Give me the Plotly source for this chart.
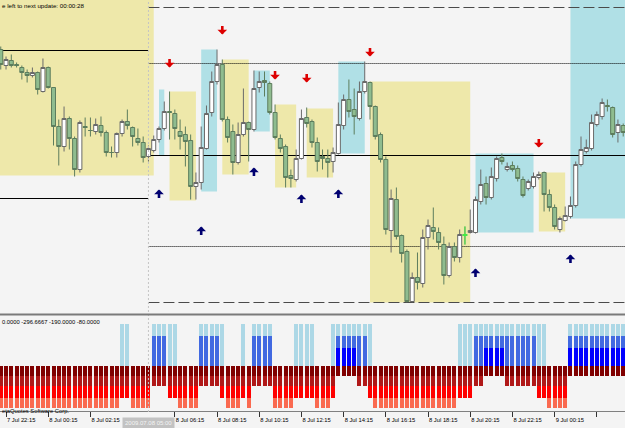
import plotly.graph_objects as go
import pandas as pd
import numpy as np

# ---------------- data ----------------
start = pd.Timestamp("2009-07-07 22:00")
times = pd.date_range(start, periods=119, freq="15min")

# prices in points (1 point = 0.0001)
open_pts = [16350,16334,16339,16335,16332,16327,16324,16327,16308,16332,
            16312,16273,16253,16281,16261,16230,16273,16269,16268,16274,
            16267,16247,16247,16266,16278,16272,16261,16257,16243,16249,
            16260,16271,16288,16286,16268,16265,16259,16213,16217,16251,
            16287,16318,16335,16280,16268,16237,16265,16277,16270,16312,
            16319,16316,16287,16261,16253,16224,16220,16241,16282,16278,
            16257,16243,16241,16238,16246,16274,16300,16290,16281,16308,
            16317,16293,16265,16240,16169,16200,16164,16148,16098,16122,
            16116,16162,16172,16167,16155,16124,16153,16142,16165,16167,
            16167,16198,16216,16202,16221,16242,16230,16234,16231,16220,
            16211,16213,16222,16227,16205,16192,16170,16179,16183,16194,
            16235,16248,16251,16275,16283,16294,16292,16267,16274]
high_pts = [16353,16343,16345,16337,16334,16330,16332,16328,16341,16333,
            16312,16280,16293,16283,16263,16279,16282,16282,16281,16283,
            16269,16253,16267,16280,16290,16273,16271,16263,16254,16264,
            16273,16298,16308,16290,16280,16273,16265,16227,16273,16294,
            16328,16350,16340,16283,16275,16277,16311,16278,16329,16328,
            16328,16318,16295,16265,16255,16230,16250,16290,16292,16280,
            16262,16250,16250,16252,16297,16305,16320,16311,16318,16338,
            16318,16294,16267,16243,16210,16212,16165,16150,16127,16147,
            16170,16180,16192,16172,16163,16157,16157,16170,16173,16190,
            16203,16230,16223,16232,16243,16246,16237,16238,16234,16223,
            16220,16227,16228,16228,16210,16195,16183,16193,16203,16238,
            16263,16260,16285,16288,16301,16300,16293,16280,16276]
low_pts = [16330,16330,16332,16332,16320,16317,16322,16305,16307,16311,
           16254,16234,16248,16250,16223,16227,16263,16263,16265,16263,
           16243,16242,16242,16263,16270,16253,16254,16237,16238,16247,
           16257,16269,16260,16260,16250,16233,16200,16200,16210,16250,
           16283,16315,16278,16257,16225,16235,16263,16238,16268,16307,
           16303,16285,16260,16247,16212,16212,16218,16240,16272,16252,
           16228,16230,16222,16227,16245,16270,16282,16265,16279,16306,
           16280,16260,16237,16165,16147,16160,16137,16097,16097,16110,
           16112,16150,16160,16150,16115,16122,16138,16137,16155,16166,
           16166,16195,16195,16200,16218,16235,16228,16228,16218,16202,
           16209,16211,16220,16188,16188,16170,16167,16178,16181,16192,
           16233,16246,16249,16273,16280,16288,16262,16257,16263]
close_pts = [16335,16340,16334,16334,16327,16324,16327,16310,16332,16312,
             16273,16253,16281,16261,16230,16277,16272,16269,16275,16267,
             16247,16247,16266,16278,16274,16263,16257,16242,16251,16260,
             16271,16288,16287,16271,16263,16258,16213,16217,16252,16286,
             16318,16335,16280,16262,16237,16265,16277,16270,16311,16318,
             16317,16287,16262,16251,16222,16221,16241,16281,16276,16257,
             16238,16241,16237,16247,16275,16300,16288,16283,16308,16318,
             16293,16263,16240,16170,16201,16163,16146,16098,16122,16117,
             16162,16174,16168,16157,16124,16153,16142,16165,16164,16169,
             16200,16215,16202,16223,16241,16238,16233,16230,16221,16204,
             16218,16223,16225,16205,16192,16173,16181,16184,16194,16235,
             16250,16252,16277,16285,16297,16293,16265,16275,16267]
lime_bar = 88

# pivot-type levels (points); day boundary at bar 28
split_bar = 28
day1_solid = [16349, 16201]
day2_solid = [16244]
day2_dotted = [16336, 16153]
day2_dashed = [16392, 16097]

# zones: (first bar, last bar, low pts, high pts, kind)
zone_start = [-1, 30, 32, 38, 42, 48, 52, 58, 64, 70, 90, 102, 108]
zone_end   = [29, 31, 37, 41, 47, 51, 56, 63, 69, 89, 101, 107, 121]
zone_low   = [16224,16244,16199,16208,16225,16268,16212,16222,16246,16097,16167,16168,16181]
zone_high  = [16410,16310,16308,16350,16340,16329,16295,16291,16338,16318,16246,16227,16410]
zone_kind  = ["Y","B","Y","B","Y","B","Y","Y","B","Y","B","Y","B"]

# signal arrows (bar index, tip price pts)
down_bar = [32, 42, 52, 58, 70, 102]
down_tip = [16332, 16365, 16320, 16317, 16343, 16252]
up_bar = [30, 38, 48, 57, 64, 90, 108]
up_tip = [16210, 16173, 16232, 16205, 16210, 16131, 16145]

# indicator: number of bearish levels per bar (bullish = 4 - bearish)
red_levels = [4,4,4,4,4,4,4,4,4,4, 4,4,4,4,4,4,4,4,4,4,
              4,4,4,3,3,4,4,4,4,2, 2,2,3,3,4,4,4,4,2,2,
              2,2,3,4,4,4,3,4,2,2, 2,2,4,4,4,4,3,3,3,3,
              4,4,4,3,1,1,1,1,2,2, 3,4,4,4,4,4,4,4,4,4,
              4,4,4,4,4,4,4,3,3,3, 2,2,1,1,1,1,2,2,2,2,
              2,2,3,3,4,4,4,4,1,1, 1,1,1,1,1,1,1,1,1]
red_depth = [-100, -200, -320, -420]
blue_height = [420, 300, 180]

tick_times = ["2009-07-07 22:15","2009-07-08 00:15","2009-07-08 02:15",
              "2009-07-08 06:15","2009-07-08 08:15","2009-07-08 10:15",
              "2009-07-08 12:15","2009-07-08 14:15","2009-07-08 16:15",
              "2009-07-08 18:15","2009-07-08 20:15","2009-07-08 22:15",
              "2009-07-09 00:15","2009-07-09 02:15"]
tick_text = ["7 Jul 22:15","8 Jul 00:15","8 Jul 02:15","8 Jul 06:15","8 Jul 08:15",
             "8 Jul 10:15","8 Jul 12:15","8 Jul 14:15","8 Jul 16:15","8 Jul 18:15",
             "8 Jul 20:15","8 Jul 22:15","9 Jul 00:15","9 Jul 02:15"]
header_text = "0.0000 -296.6667 -190.0000 -80.0000"

# ---------------- figure ----------------
W, H = 625, 428
P = 1e-4
bar = pd.Timedelta(minutes=15)
o = np.array(open_pts) * P
h = np.array(high_pts) * P
l = np.array(low_pts) * P
c = np.array(close_pts) * P

def py(px):  # paper y from pixel row
    return 1 - px / H

fig = go.Figure()
fig.add_trace(go.Candlestick(
    x=times, open=o, high=h, low=l, close=c, xaxis="x", yaxis="y",
    increasing=dict(line=dict(color="#6a6a6a", width=1), fillcolor="#ffffff"),
    decreasing=dict(line=dict(color="#5d7d5d", width=1), fillcolor="#8fbc8f"),
    whiskerwidth=0, showlegend=False, hoverinfo="skip"))
k = lime_bar
fig.add_trace(go.Candlestick(
    x=[times[k]], open=[o[k]], high=[h[k]], low=[l[k]], close=[c[k]], xaxis="x", yaxis="y",
    increasing=dict(line=dict(color="#44ee44", width=1), fillcolor="#44ee44"),
    decreasing=dict(line=dict(color="#44ee44", width=1), fillcolor="#44ee44"),
    whiskerwidth=0, showlegend=False, hoverinfo="skip"))

# indicator histograms
rl = np.array(red_levels)
bl = 4 - rl
bw = 0.76 * 15 * 60 * 1000
blue_cols = ["#add8e6", "#4169e1", "#0000ff"]
for j in range(3):
    vals = np.where(bl > j, blue_height[j], 0)
    fig.add_trace(go.Bar(x=times, y=vals, width=bw, marker=dict(color=blue_cols[j], line=dict(width=0)),
                         xaxis="x2", yaxis="y2", showlegend=False, hoverinfo="skip"))
red_cols = ["#800000", "#b01818", "#ff0000", "#fa6a50"]
for j in [3, 2, 1, 0]:
    vals = np.where(rl > j, red_depth[j], 0)
    fig.add_trace(go.Bar(x=times, y=vals, width=bw, marker=dict(color=red_cols[j], line=dict(width=0)),
                         xaxis="x2", yaxis="y2", showlegend=False, hoverinfo="skip"))

shapes = []
for s, e, lo, hi, kd in zip(zone_start, zone_end, zone_low, zone_high, zone_kind):
    shapes.append(dict(type="rect", xref="x", yref="y", layer="below",
                       x0=start + s * bar, x1=start + e * bar, y0=lo * P, y1=hi * P,
                       fillcolor="#eee8aa" if kd == "Y" else "#b0e0e6", line=dict(width=0)))
xs_left = start - 2 * bar
xs_split = times[split_bar]
xs_right = times[-1] + 3 * bar
for v in day1_solid:
    shapes.append(dict(type="line", xref="x", yref="y", layer="below", x0=xs_left, x1=xs_split,
                       y0=v * P, y1=v * P, line=dict(color="#000000", width=1)))
for v in day2_solid:
    shapes.append(dict(type="line", xref="x", yref="y", layer="below", x0=xs_split, x1=xs_right,
                       y0=v * P, y1=v * P, line=dict(color="#000000", width=1)))
for v in day2_dotted:
    shapes.append(dict(type="line", xref="x", yref="y", layer="below", x0=xs_split, x1=xs_right,
                       y0=v * P, y1=v * P, line=dict(color="#000000", width=1, dash="1px,1px")))
for v in day2_dashed:
    shapes.append(dict(type="line", xref="x", yref="y", layer="below", x0=xs_split, x1=xs_right,
                       y0=v * P, y1=v * P, line=dict(color="#4a4a4a", width=1, dash="11px,4px")))
# period separator
shapes.append(dict(type="line", xref="x", yref="paper", layer="above", x0=xs_split, x1=xs_split,
                   y0=py(412), y1=1, line=dict(color="#c4c4c4", width=1, dash="2px,2px")))
# window separator
shapes.append(dict(type="line", xref="paper", yref="paper", x0=0, x1=1, y0=py(314.5), y1=py(314.5),
                   line=dict(color="#7a7a7a", width=2)))

ann = []
for b, t in zip(down_bar, down_tip):
    ann.append(dict(x=times[b], y=t * P, xref="x", yref="y", text="", showarrow=True,
                    ax=0, ay=-10, arrowhead=1, arrowsize=0.62, arrowwidth=2.6, arrowcolor="#dd0000"))
for b, t in zip(up_bar, up_tip):
    ann.append(dict(x=times[b], y=t * P, xref="x", yref="y", text="", showarrow=True,
                    ax=0, ay=10, arrowhead=1, arrowsize=0.62, arrowwidth=2.6, arrowcolor="#000070"))
ann.append(dict(x=0, y=py(5), xref="paper", yref="paper", xanchor="left", yanchor="middle",
                text="e left to next update: 00:00:28", showarrow=False,
                font=dict(family="Liberation Sans", size=6.2, color="#000000")))
ann.append(dict(x=0, y=py(322), xref="paper", yref="paper", xanchor="left", yanchor="middle",
                text=header_text, showarrow=False,
                font=dict(family="Liberation Sans", size=5.8, color="#000000")))
ann.append(dict(x=0, y=py(410.5), xref="paper", yref="paper", xanchor="left", yanchor="middle",
                text="etaQuotes Software Corp.", showarrow=False,
                font=dict(family="Liberation Sans", size=5.8, color="#000000")))
ann.append(dict(x=times[split_bar], y=py(423), xref="x", yref="paper", xanchor="center", yanchor="middle",
                text="2009.07.08 05:00", showarrow=False, bgcolor="#c2c2c2", borderpad=2,
                font=dict(family="Liberation Sans", size=6, color="#f4f4f4")))

x_range = [start - pd.Timedelta(seconds=128), start + pd.Timedelta(minutes=1775.1)]
fig.update_layout(
    width=W, height=H, margin=dict(l=0, r=0, t=0, b=0),
    paper_bgcolor="#f4f4f4", plot_bgcolor="#f4f4f4",
    barmode="overlay", bargap=0, boxgap=0.24, boxgroupgap=0,
    shapes=shapes, annotations=ann,
    xaxis=dict(domain=[0, 1], range=x_range, anchor="y", showticklabels=False, showgrid=False,
               zeroline=False, rangeslider=dict(visible=False), ticks=""),
    yaxis=dict(domain=[py(311), 1], range=[1.60885, 1.63995], showticklabels=False, showgrid=False,
               zeroline=False, ticks=""),
    xaxis2=dict(domain=[0, 1], range=x_range, anchor="y2", matches="x", showgrid=False, zeroline=False,
                tickvals=pd.to_datetime(tick_times), ticktext=tick_text, ticks="outside", ticklen=5,
                tickcolor="#333333", ticklabelposition="outside right", ticklabelstandoff=3,
                tickfont=dict(family="Liberation Sans", size=5.8, color="#000000"),
                showline=True, linecolor="#808080", linewidth=1),
    yaxis2=dict(domain=[py(411), py(316)], range=[-450, 500], showticklabels=False, showgrid=False,
                zeroline=False, ticks=""),
)
fig.write_html("out.html")
